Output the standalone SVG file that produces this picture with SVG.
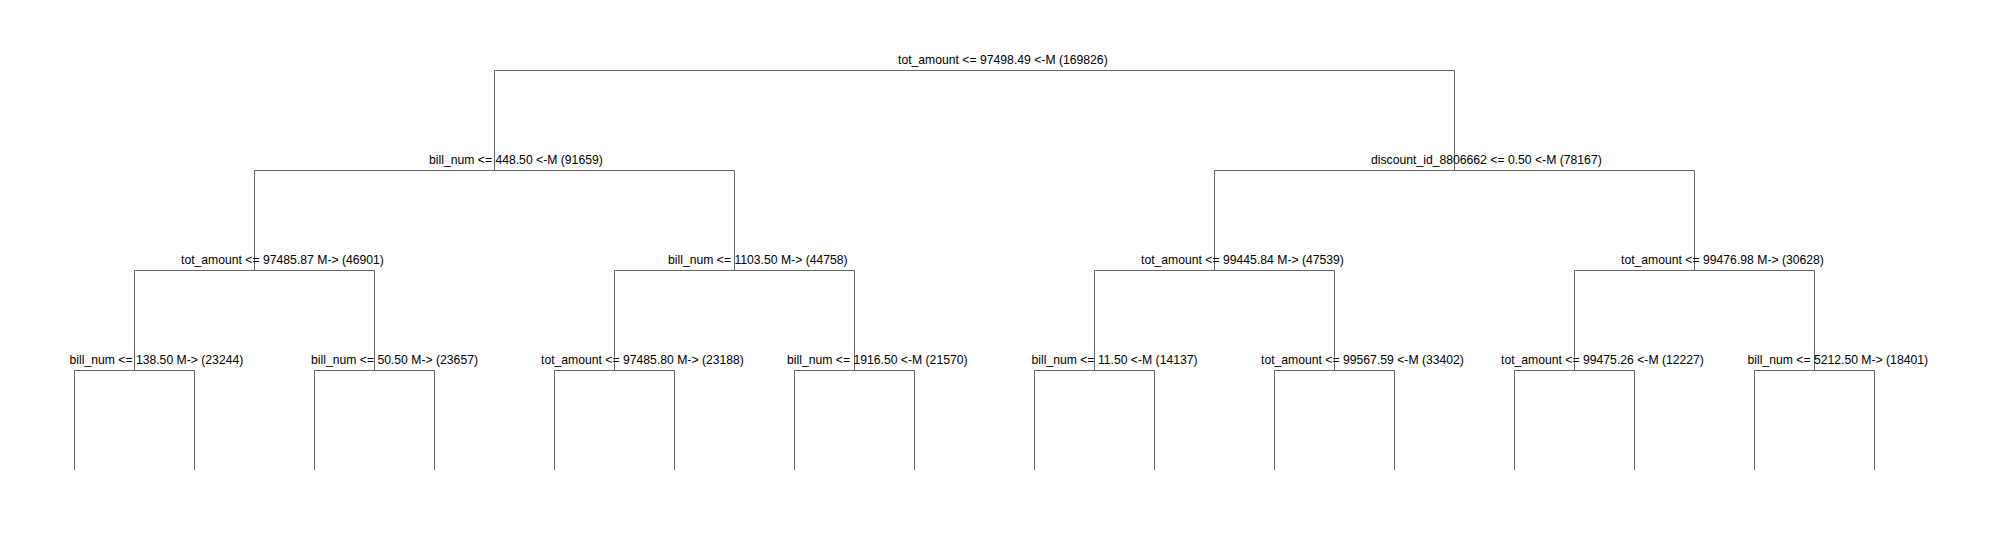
<svg xmlns="http://www.w3.org/2000/svg" width="1997" height="540" viewBox="0 0 1997 540">
<style>
.bg{fill:#ffffff}
.lbl{font-family:"Liberation Sans",Arial,sans-serif;font-size:12.2px;fill:#000000}
.edge{fill:none;stroke:#666666;stroke-width:1}
</style>
<rect class="bg" x="0" y="0" width="1997" height="540"/>
<g id="connectors">
<path class="edge" d="M494.5 170 V70.5 H1454.5 V170"/>
<path class="edge" d="M254.5 270 V170.5 H734.5 V270"/>
<path class="edge" d="M1214.5 270 V170.5 H1694.5 V270"/>
<path class="edge" d="M134.5 370 V270.5 H374.5 V370"/>
<path class="edge" d="M614.5 370 V270.5 H854.5 V370"/>
<path class="edge" d="M1094.5 370 V270.5 H1334.5 V370"/>
<path class="edge" d="M1574.5 370 V270.5 H1814.5 V370"/>
<path class="edge" d="M74.5 470 V370.5 H194.5 V470"/>
<path class="edge" d="M314.5 470 V370.5 H434.5 V470"/>
<path class="edge" d="M554.5 470 V370.5 H674.5 V470"/>
<path class="edge" d="M794.5 470 V370.5 H914.5 V470"/>
<path class="edge" d="M1034.5 470 V370.5 H1154.5 V470"/>
<path class="edge" d="M1274.5 470 V370.5 H1394.5 V470"/>
<path class="edge" d="M1514.5 470 V370.5 H1634.5 V470"/>
<path class="edge" d="M1754.5 470 V370.5 H1874.5 V470"/>
</g>
<g id="n0"><text class="lbl" x="898" y="64">tot_amount &lt;= 97498.49 &lt;-M (169826)</text></g>
<g id="n1"><text class="lbl" x="429" y="164">bill_num &lt;= 448.50 &lt;-M (91659)</text></g>
<g id="n2"><text class="lbl" x="1371" y="164">discount_id_8806662 &lt;= 0.50 &lt;-M (78167)</text></g>
<g id="n3"><text class="lbl" x="181" y="264">tot_amount &lt;= 97485.87 M-&gt; (46901)</text></g>
<g id="n4"><text class="lbl" x="668" y="264">bill_num &lt;= 1103.50 M-&gt; (44758)</text></g>
<g id="n5"><text class="lbl" x="1141" y="264">tot_amount &lt;= 99445.84 M-&gt; (47539)</text></g>
<g id="n6"><text class="lbl" x="1621" y="264">tot_amount &lt;= 99476.98 M-&gt; (30628)</text></g>
<g id="n7"><text class="lbl" x="69.5" y="364">bill_num &lt;= 138.50 M-&gt; (23244)</text></g>
<g id="n8"><text class="lbl" x="311" y="364">bill_num &lt;= 50.50 M-&gt; (23657)</text></g>
<g id="n9"><text class="lbl" x="541" y="364">tot_amount &lt;= 97485.80 M-&gt; (23188)</text></g>
<g id="n10"><text class="lbl" x="787" y="364">bill_num &lt;= 1916.50 &lt;-M (21570)</text></g>
<g id="n11"><text class="lbl" x="1031.5" y="364">bill_num &lt;= 11.50 &lt;-M (14137)</text></g>
<g id="n12"><text class="lbl" x="1261" y="364">tot_amount &lt;= 99567.59 &lt;-M (33402)</text></g>
<g id="n13"><text class="lbl" x="1501" y="364">tot_amount &lt;= 99475.26 &lt;-M (12227)</text></g>
<g id="n14"><text class="lbl" x="1747.5" y="364">bill_num &lt;= 5212.50 M-&gt; (18401)</text></g>
</svg>
